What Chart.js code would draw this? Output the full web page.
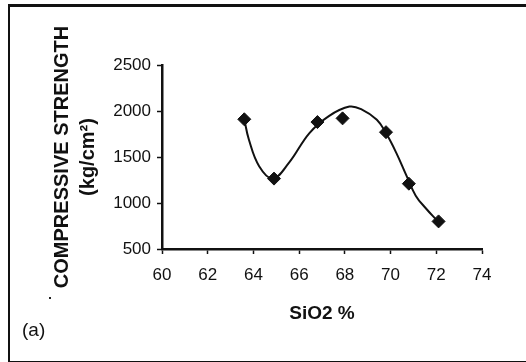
<!DOCTYPE html>
<html>
<head>
<meta charset="utf-8">
<script src="https://cdn.jsdelivr.net/npm/chart.js@4.4.1/dist/chart.umd.min.js"></script>
<style>
  html, body { margin: 0; padding: 0; background: #fff; }
  #wrap { position: relative; width: 526px; height: 362px; overflow: hidden; }
  #chart { position: absolute; left: 0; top: 0; }
  .frame { position: absolute; left: 8px; top: 4px; width: 530px; height: 354px; border: 2px solid #111; border-top-width: 3px; box-sizing: content-box; }
  .tag { position: absolute; left: 22px; top: 319px; font: 19px "Liberation Sans", Arial, sans-serif; color: #111; }
  .dot { position: absolute; left: 49px; top: 297px; width: 2px; height: 2px; background: #222; }
</style>
</head>
<body>
<div id="wrap">
  <canvas id="chart" width="526" height="362"></canvas>
  <div class="frame"></div>
  <div class="dot"></div>
  <div class="tag">(a)</div>
</div>
<script>
// measured samples
const silica = [63.6, 64.9, 66.8, 67.9, 69.8, 70.8, 72.1];
const strength = [1910, 1265, 1880, 1920, 1770, 1210, 800];

// fitted trend curve, traced point by point
const trendX = [63.6, 63.8, 64.25, 64.85, 65.55, 66.45, 67.3, 68.2, 68.75, 69.4, 69.8, 70.25, 70.7, 71.1, 71.55, 72.05];
const trendY = [1910, 1690, 1400, 1265, 1435, 1760, 1945, 2048, 2015, 1905, 1760, 1545, 1295, 1080, 940, 805];

// axis ranges
const xTicks = { min: 60, max: 74, step: 2 };
const yTicks = { min: 500, max: 2500, step: 500 };

const FONT = '"Liberation Sans", Arial, sans-serif';
const INK = '#111';

const pts = (xs, ys) => xs.map((x, i) => ({ x, y: ys[i] }));
const plain = (v) => String(v);

new Chart(document.getElementById('chart'), {
  type: 'scatter',
  data: {
    datasets: [
      {
        label: 'trend',
        data: pts(trendX, trendY),
        showLine: true,
        borderColor: INK,
        borderWidth: 2,
        tension: 0.4,
        pointRadius: 0,
        fill: false,
      },
      {
        label: 'samples',
        data: pts(silica, strength),
        showLine: false,
        pointStyle: 'rectRot',
        pointRadius: 6.5,
        backgroundColor: INK,
        borderColor: INK,
        borderWidth: 1,
      },
    ],
  },
  options: {
    responsive: false,
    animation: false,
    layout: { padding: { left: 0, top: 65, right: 44, bottom: 0 } },
    plugins: { legend: { display: false }, tooltip: { enabled: false } },
    scales: {
      x: {
        type: 'linear',
        min: xTicks.min,
        max: xTicks.max,
        afterFit: (s) => { s.height = 113; },
        ticks: { stepSize: xTicks.step, callback: plain, color: INK, font: { family: FONT, size: 17 }, padding: 11 },
        grid: { drawOnChartArea: false, tickLength: 5, color: INK, tickWidth: 1.5 },
        border: { color: INK, width: 2.5 },
        title: {
          display: true,
          text: 'SiO2 %',
          color: INK,
          font: { family: FONT, size: 19, weight: 'bold' },
          padding: { top: 0, bottom: 37 },
        },
      },
      y: {
        min: yTicks.min,
        max: yTicks.max,
        afterFit: (s) => { s.width = 162; },
        ticks: { stepSize: yTicks.step, callback: plain, color: INK, font: { family: FONT, size: 17 }, padding: 6 },
        grid: { drawOnChartArea: false, tickLength: 5, color: INK, tickWidth: 1.5 },
        border: { color: INK, width: 2.5 },
        title: {
          display: true,
          text: ['COMPRESSIVE STRENGTH', '(kg/cm²)'],
          color: INK,
          font: { family: FONT, size: 20, weight: 'bold', lineHeight: 1.3 },
          padding: { top: 49, bottom: 0 },
        },
      },
    },
  },
});
</script>
</body>
</html>
